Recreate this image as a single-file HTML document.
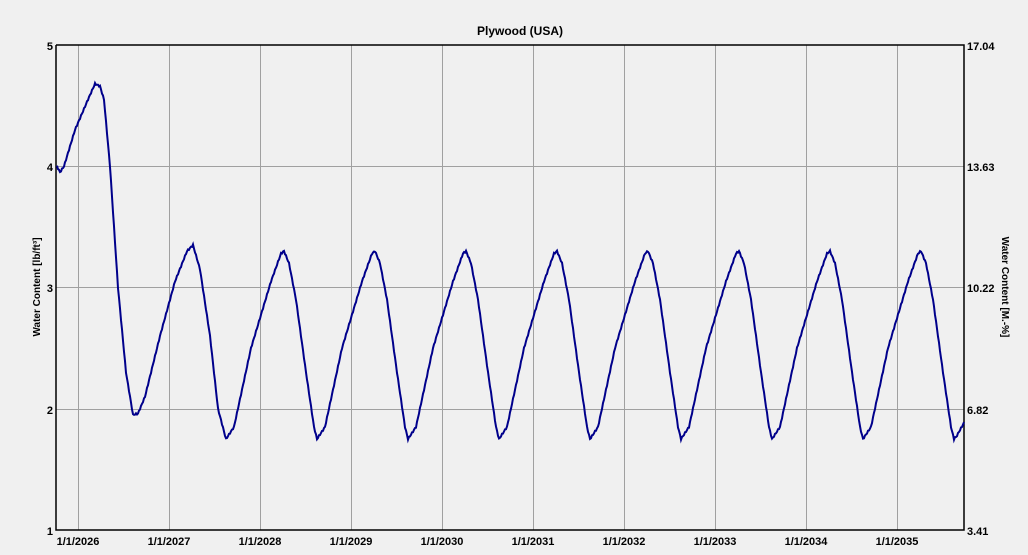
<!DOCTYPE html>
<html><head><meta charset="utf-8"><style>
body{margin:0;background:#f0f0f0;}
svg{display:block;font-family:"Liberation Sans",sans-serif;}
</style></head><body>
<svg id="s" width="1028" height="555" xmlns="http://www.w3.org/2000/svg">
<rect width="1028" height="555" fill="#f0f0f0"/>
<text x="520" y="35" font-size="12" font-weight="bold" text-anchor="middle">Plywood (USA)</text>
<g stroke="#a0a0a0" stroke-width="1">
<line x1="56" x2="964" y1="166.5" y2="166.5"/><line x1="56" x2="964" y1="287.5" y2="287.5"/><line x1="56" x2="964" y1="409.5" y2="409.5"/>
<line x1="78.5" x2="78.5" y1="45" y2="530"/><line x1="169.5" x2="169.5" y1="45" y2="530"/><line x1="260.5" x2="260.5" y1="45" y2="530"/><line x1="351.5" x2="351.5" y1="45" y2="530"/><line x1="442.5" x2="442.5" y1="45" y2="530"/><line x1="533.5" x2="533.5" y1="45" y2="530"/><line x1="624.5" x2="624.5" y1="45" y2="530"/><line x1="715.5" x2="715.5" y1="45" y2="530"/><line x1="806.5" x2="806.5" y1="45" y2="530"/><line x1="897.5" x2="897.5" y1="45" y2="530"/>
</g>
<polyline points="56,45 56,530 964,530 964,45 56,45" fill="none" stroke="#000" stroke-width="1.5"/>
<path id="c" fill="none" stroke="#00008b" stroke-width="2"/>
<g font-size="11" font-weight="bold" text-anchor="end">
<text x="53" y="50">5</text><text x="53" y="171">4</text><text x="53" y="292">3</text><text x="53" y="414">2</text><text x="53" y="535">1</text>
</g>
<g font-size="11" font-weight="bold">
<text x="967" y="50">17.04</text><text x="967" y="171">13.63</text><text x="967" y="292">10.22</text><text x="967" y="414">6.82</text><text x="967" y="535">3.41</text>
</g>
<g font-size="11" font-weight="bold" text-anchor="middle">
<text x="78" y="545">1/1/2026</text><text x="169" y="545">1/1/2027</text><text x="260" y="545">1/1/2028</text><text x="351" y="545">1/1/2029</text><text x="442" y="545">1/1/2030</text><text x="533" y="545">1/1/2031</text><text x="624" y="545">1/1/2032</text><text x="715" y="545">1/1/2033</text><text x="806" y="545">1/1/2034</text><text x="897" y="545">1/1/2035</text>
</g>
<text transform="translate(40,287) rotate(-90)" font-size="10" font-weight="bold" text-anchor="middle">Water Content [lb/ft³]</text>
<text transform="translate(1002,287) rotate(90)" font-size="10" font-weight="bold" text-anchor="middle">Water Content [M.-%]</text>
</svg>
<script>
var k=[[57,4.0],[60,3.95],[64,4.0],[75,4.3],[88,4.55],[95,4.68],[100,4.66],[104,4.55],[110,4.0],[118,3.0],[126,2.3],[133,1.95],[138,1.96],[145,2.1],[160,2.6],[175,3.05],[187,3.3],[193,3.35],[200,3.15],[210,2.6],[218,2.0],[226,1.75]];
var cyc=[[8,1.85],[25,2.5],[45,3.05],[55,3.28],[58,3.3],[63,3.2],[70,2.9],[80,2.3],[88,1.85],[91,1.75]];
for(var m=226;m<960;m+=91){cyc.forEach(function(p){k.push([m+p[0],p[1]]);});}
var pts=[];
for(var i=0;i<k.length-1;i++){var a=k[i],b=k[i+1];if(a[0]>=964)break;
for(var x=a[0];x<b[0];x+=1){if(x>964)break;var t=(x-a[0])/(b[0]-a[0]);var v=a[1]+(b[1]-a[1])*t;
if(x>955)v=1.75+(x-955)*0.015;
pts.push(x+","+(530-(v-1)*121.25+Math.sin(x*2.3)*0.8).toFixed(1));}}
document.getElementById("c").setAttribute("d","M"+pts.join(" L"));
</script>
</body></html>
